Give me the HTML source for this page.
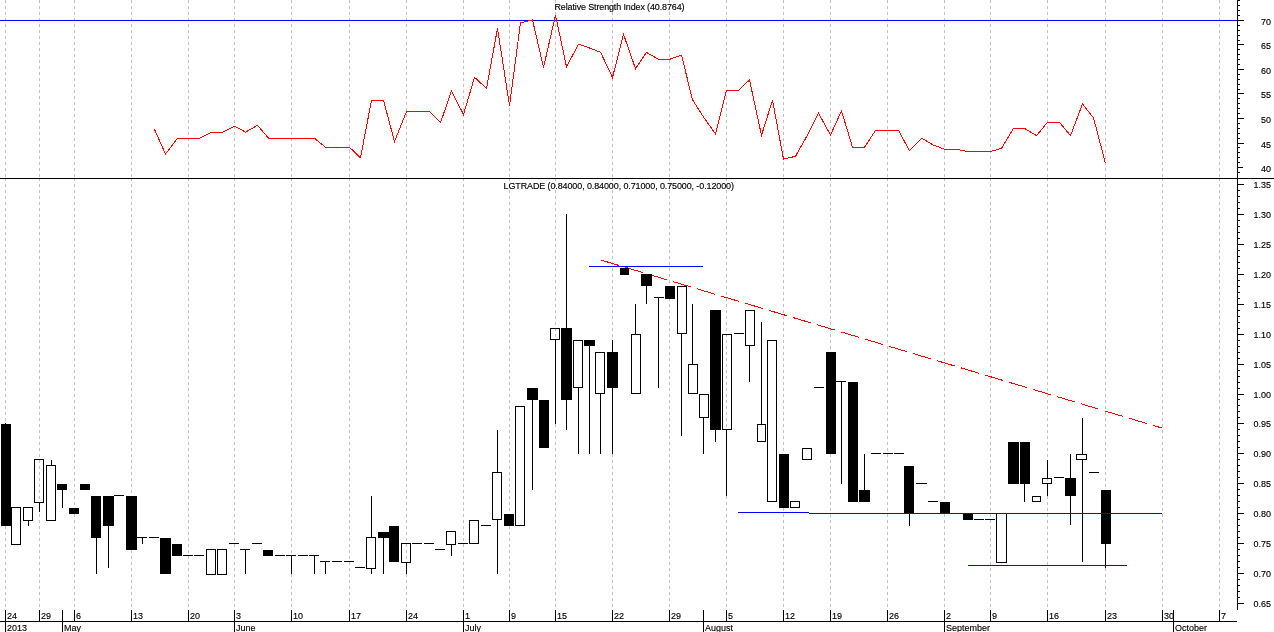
<!DOCTYPE html><html><head><meta charset="utf-8"><title>LGTRADE chart</title><style>
html,body{margin:0;padding:0;background:#fff;}body{width:1274px;height:632px;overflow:hidden;}
svg{display:block;}text{font-family:"Liberation Sans",Arial,sans-serif;font-size:9.8px;fill:#000;stroke:#000;stroke-width:.15px;}
.g{stroke:#c0c0c0;stroke-width:1;stroke-dasharray:3 3;}
.k{stroke:#000;stroke-width:1;}.h{fill:none;stroke:#000;stroke-width:1;}.b{fill:#000;}
</style></head><body>
<svg width="1274" height="632" viewBox="0 0 1274 632" shape-rendering="crispEdges">
<rect width="1274" height="632" fill="#fff"/>
<line class="g" x1="5.5" y1="0" x2="5.5" y2="178"/><line class="g" x1="5.5" y1="178" x2="5.5" y2="610"/>
<line class="g" x1="39.5" y1="0" x2="39.5" y2="178"/><line class="g" x1="39.5" y1="178" x2="39.5" y2="610"/>
<line class="g" x1="74.5" y1="0" x2="74.5" y2="178"/><line class="g" x1="74.5" y1="178" x2="74.5" y2="610"/>
<line class="g" x1="131.5" y1="0" x2="131.5" y2="178"/><line class="g" x1="131.5" y1="178" x2="131.5" y2="610"/>
<line class="g" x1="188.5" y1="0" x2="188.5" y2="178"/><line class="g" x1="188.5" y1="178" x2="188.5" y2="610"/>
<line class="g" x1="234.5" y1="0" x2="234.5" y2="178"/><line class="g" x1="234.5" y1="178" x2="234.5" y2="610"/>
<line class="g" x1="291.5" y1="0" x2="291.5" y2="178"/><line class="g" x1="291.5" y1="178" x2="291.5" y2="610"/>
<line class="g" x1="349.5" y1="0" x2="349.5" y2="178"/><line class="g" x1="349.5" y1="178" x2="349.5" y2="610"/>
<line class="g" x1="406.5" y1="0" x2="406.5" y2="178"/><line class="g" x1="406.5" y1="178" x2="406.5" y2="610"/>
<line class="g" x1="463.5" y1="0" x2="463.5" y2="178"/><line class="g" x1="463.5" y1="178" x2="463.5" y2="610"/>
<line class="g" x1="509.5" y1="0" x2="509.5" y2="178"/><line class="g" x1="509.5" y1="178" x2="509.5" y2="610"/>
<line class="g" x1="555.5" y1="0" x2="555.5" y2="178"/><line class="g" x1="555.5" y1="178" x2="555.5" y2="610"/>
<line class="g" x1="612.5" y1="0" x2="612.5" y2="178"/><line class="g" x1="612.5" y1="178" x2="612.5" y2="610"/>
<line class="g" x1="669.5" y1="0" x2="669.5" y2="178"/><line class="g" x1="669.5" y1="178" x2="669.5" y2="610"/>
<line class="g" x1="726.5" y1="0" x2="726.5" y2="178"/><line class="g" x1="726.5" y1="178" x2="726.5" y2="610"/>
<line class="g" x1="783.5" y1="0" x2="783.5" y2="178"/><line class="g" x1="783.5" y1="178" x2="783.5" y2="610"/>
<line class="g" x1="830.5" y1="0" x2="830.5" y2="178"/><line class="g" x1="830.5" y1="178" x2="830.5" y2="610"/>
<line class="g" x1="887.5" y1="0" x2="887.5" y2="178"/><line class="g" x1="887.5" y1="178" x2="887.5" y2="610"/>
<line class="g" x1="944.5" y1="0" x2="944.5" y2="178"/><line class="g" x1="944.5" y1="178" x2="944.5" y2="610"/>
<line class="g" x1="990.5" y1="0" x2="990.5" y2="178"/><line class="g" x1="990.5" y1="178" x2="990.5" y2="610"/>
<line class="g" x1="1047.5" y1="0" x2="1047.5" y2="178"/><line class="g" x1="1047.5" y1="178" x2="1047.5" y2="610"/>
<line class="g" x1="1105.5" y1="0" x2="1105.5" y2="178"/><line class="g" x1="1105.5" y1="178" x2="1105.5" y2="610"/>
<line class="g" x1="1162.5" y1="0" x2="1162.5" y2="178"/><line class="g" x1="1162.5" y1="178" x2="1162.5" y2="610"/>
<line class="g" x1="1219.5" y1="0" x2="1219.5" y2="178"/><line class="g" x1="1219.5" y1="178" x2="1219.5" y2="610"/>
<line x1="0" y1="20.5" x2="1237" y2="20.5" stroke="#0000ff"/>
<polyline points="154.5,129.3 165.5,154.0 177.5,138.2 188.5,138.2 199.5,138.2 211.5,132.3 222.5,132.3 234.5,126.1 245.5,132.1 257.5,125.3 268.5,138.2 280.5,138.2 291.5,138.2 303.5,138.2 314.5,138.2 325.5,147.3 337.5,147.3 349.5,147.3 360.5,157.8 371.5,100.2 383.5,100.2 394.5,141.6 406.5,111.5 417.5,111.5 429.5,111.5 440.5,122.7 451.5,90.9 463.5,114.5 474.5,77.3 486.5,88.4 497.5,28.5 509.5,105.5 520.5,22.8 532.5,19.9 543.5,67.4 555.5,15.2 566.5,66.8 578.5,44.2 589.5,48.0 600.5,52.2 612.5,77.5 623.5,34.2 635.5,68.7 646.5,52.4 658.5,59.4 669.5,59.4 681.5,55.1 692.5,99.8 703.5,117.0 715.5,134.0 726.5,90.4 738.5,90.4 749.5,79.9 761.5,135.4 772.5,100.2 783.5,159.1 795.5,156.3 807.5,135.0 818.5,113.2 830.5,135.0 841.5,110.9 852.5,147.3 864.5,147.3 875.5,130.4 887.5,130.4 898.5,130.4 909.5,150.8 921.5,138.2 933.5,145.1 944.5,149.2 956.5,149.2 967.5,151.5 978.5,151.5 990.5,151.5 1001.5,148.3 1013.5,128.4 1024.5,128.4 1036.5,135.6 1047.5,122.3 1059.5,122.3 1070.5,135.6 1082.5,104.0 1093.5,117.9 1105.5,163.5" fill="none" stroke="#ff0000" stroke-width="1"/>
<line class="k" x1="0" y1="178.5" x2="1274" y2="178.5"/>
<line x1="601.2" y1="260.1" x2="1162" y2="428.06" stroke="#ff0000" stroke-width="1" stroke-dasharray="18.25 6.8"/>
<line class="k" x1="5.5" y1="423" x2="5.5" y2="424"/>
<rect class="b" x="1" y="424" width="10" height="102"/>
<rect class="h" x="11.5" y="507.5" width="9" height="37"/>
<line class="k" x1="28.5" y1="520" x2="28.5" y2="526"/>
<rect class="h" x="23.5" y="507.5" width="9" height="13"/>
<line class="k" x1="39.5" y1="502" x2="39.5" y2="512"/>
<rect class="h" x="34.5" y="459.5" width="9" height="43"/>
<line class="k" x1="51.5" y1="460" x2="51.5" y2="466"/>
<rect class="h" x="46.5" y="465.5" width="9" height="55"/>
<line class="k" x1="62.5" y1="490" x2="62.5" y2="508"/>
<rect class="b" x="57" y="484" width="10" height="6"/>
<rect class="b" x="69" y="508" width="10" height="6"/>
<rect class="b" x="80" y="484" width="10" height="6"/>
<line class="k" x1="96.5" y1="538" x2="96.5" y2="574"/>
<rect class="b" x="91" y="496" width="10" height="42"/>
<line class="k" x1="108.5" y1="526" x2="108.5" y2="568"/>
<rect class="b" x="103" y="496" width="11" height="30"/>
<line class="k" x1="114" y1="495.5" x2="124" y2="495.5"/>
<rect class="b" x="126" y="496" width="11" height="54"/>
<line class="k" x1="142.5" y1="538" x2="142.5" y2="544"/>
<line class="k" x1="137" y1="537.5" x2="147" y2="537.5"/>
<line class="k" x1="149" y1="537.5" x2="159" y2="537.5"/>
<rect class="b" x="160" y="538" width="11" height="36"/>
<rect class="b" x="172" y="544" width="10" height="12"/>
<line class="k" x1="183" y1="555.5" x2="193" y2="555.5"/>
<line class="k" x1="194" y1="555.5" x2="204" y2="555.5"/>
<rect class="h" x="206.5" y="549.5" width="9" height="25"/>
<rect class="h" x="217.5" y="549.5" width="9" height="25"/>
<line class="k" x1="229" y1="543.5" x2="239" y2="543.5"/>
<line class="k" x1="245.5" y1="550" x2="245.5" y2="574"/>
<line class="k" x1="240" y1="549.5" x2="250" y2="549.5"/>
<line class="k" x1="252" y1="543.5" x2="262" y2="543.5"/>
<rect class="b" x="263" y="550" width="10" height="6"/>
<line class="k" x1="275" y1="555.5" x2="285" y2="555.5"/>
<line class="k" x1="291.5" y1="556" x2="291.5" y2="574"/>
<line class="k" x1="286" y1="555.5" x2="296" y2="555.5"/>
<line class="k" x1="298" y1="555.5" x2="308" y2="555.5"/>
<line class="k" x1="314.5" y1="556" x2="314.5" y2="574"/>
<line class="k" x1="309" y1="555.5" x2="319" y2="555.5"/>
<line class="k" x1="325.5" y1="562" x2="325.5" y2="574"/>
<line class="k" x1="320" y1="561.5" x2="330" y2="561.5"/>
<line class="k" x1="332" y1="561.5" x2="342" y2="561.5"/>
<line class="k" x1="344" y1="561.5" x2="354" y2="561.5"/>
<line class="k" x1="355" y1="567.5" x2="365" y2="567.5"/>
<line class="k" x1="371.5" y1="496" x2="371.5" y2="538"/>
<line class="k" x1="371.5" y1="568" x2="371.5" y2="574"/>
<rect class="h" x="366.5" y="537.5" width="9" height="31"/>
<line class="k" x1="383.5" y1="538" x2="383.5" y2="574"/>
<rect class="b" x="378" y="532" width="11" height="6"/>
<rect class="b" x="389" y="526" width="10" height="36"/>
<line class="k" x1="406.5" y1="562" x2="406.5" y2="574"/>
<rect class="h" x="401.5" y="543.5" width="9" height="19"/>
<line class="k" x1="412" y1="543.5" x2="422" y2="543.5"/>
<line class="k" x1="424" y1="543.5" x2="434" y2="543.5"/>
<line class="k" x1="435" y1="549.5" x2="445" y2="549.5"/>
<line class="k" x1="451.5" y1="544" x2="451.5" y2="556"/>
<rect class="h" x="446.5" y="531.5" width="9" height="13"/>
<line class="k" x1="458" y1="543.5" x2="468" y2="543.5"/>
<rect class="h" x="469.5" y="520.5" width="9" height="23"/>
<line class="k" x1="481" y1="525.5" x2="491" y2="525.5"/>
<line class="k" x1="497.5" y1="430" x2="497.5" y2="472"/>
<line class="k" x1="497.5" y1="520" x2="497.5" y2="574"/>
<rect class="h" x="492.5" y="472.5" width="9" height="47"/>
<rect class="b" x="504" y="514" width="10" height="12"/>
<rect class="h" x="515.5" y="406.5" width="9" height="119"/>
<line class="k" x1="532.5" y1="400" x2="532.5" y2="490"/>
<rect class="b" x="527" y="388" width="11" height="12"/>
<rect class="b" x="539" y="400" width="10" height="48"/>
<line class="k" x1="555.5" y1="340" x2="555.5" y2="424"/>
<rect class="h" x="550.5" y="328.5" width="9" height="11"/>
<line class="k" x1="566.5" y1="214" x2="566.5" y2="328"/>
<line class="k" x1="566.5" y1="400" x2="566.5" y2="430"/>
<rect class="b" x="561" y="328" width="11" height="72"/>
<line class="k" x1="578.5" y1="388" x2="578.5" y2="454"/>
<rect class="h" x="573.5" y="340.5" width="9" height="47"/>
<line class="k" x1="589.5" y1="346" x2="589.5" y2="454"/>
<rect class="b" x="584" y="340" width="11" height="6"/>
<line class="k" x1="600.5" y1="394" x2="600.5" y2="454"/>
<rect class="h" x="595.5" y="352.5" width="9" height="41"/>
<line class="k" x1="612.5" y1="340" x2="612.5" y2="352"/>
<line class="k" x1="612.5" y1="388" x2="612.5" y2="454"/>
<rect class="b" x="607" y="352" width="11" height="36"/>
<rect class="b" x="620" y="268" width="9" height="7"/>
<line class="k" x1="635.5" y1="304" x2="635.5" y2="334"/>
<rect class="h" x="631.5" y="334.5" width="9" height="59"/>
<line class="k" x1="646.5" y1="286" x2="646.5" y2="304"/>
<rect class="b" x="641" y="274" width="11" height="12"/>
<line class="k" x1="658.5" y1="298" x2="658.5" y2="388"/>
<line class="k" x1="654" y1="297.5" x2="664" y2="297.5"/>
<rect class="b" x="665" y="286" width="10" height="13"/>
<line class="k" x1="681.5" y1="334" x2="681.5" y2="436"/>
<rect class="h" x="677.5" y="286.5" width="9" height="47"/>
<line class="k" x1="692.5" y1="304" x2="692.5" y2="364"/>
<rect class="h" x="688.5" y="364.5" width="9" height="29"/>
<line class="k" x1="703.5" y1="418" x2="703.5" y2="454"/>
<rect class="h" x="699.5" y="394.5" width="9" height="23"/>
<line class="k" x1="715.5" y1="430" x2="715.5" y2="442"/>
<rect class="b" x="710" y="310" width="11" height="120"/>
<line class="k" x1="726.5" y1="430" x2="726.5" y2="496"/>
<rect class="h" x="722.5" y="334.5" width="9" height="95"/>
<line class="k" x1="734" y1="333.5" x2="744" y2="333.5"/>
<line class="k" x1="749.5" y1="346" x2="749.5" y2="382"/>
<rect class="h" x="745.5" y="310.5" width="9" height="35"/>
<line class="k" x1="761.5" y1="322" x2="761.5" y2="424"/>
<rect class="h" x="757.5" y="424.5" width="8" height="17"/>
<rect class="h" x="767.5" y="340.5" width="9" height="161"/>
<rect class="b" x="779" y="454" width="10" height="54"/>
<rect class="h" x="790.5" y="501.5" width="9" height="6"/>
<rect class="h" x="802.5" y="448.5" width="9" height="11"/>
<line class="k" x1="814" y1="387.5" x2="824" y2="387.5"/>
<rect class="b" x="826" y="352" width="10" height="102"/>
<line class="k" x1="841.5" y1="382" x2="841.5" y2="484"/>
<line class="k" x1="836" y1="381.5" x2="846" y2="381.5"/>
<rect class="b" x="848" y="382" width="10" height="120"/>
<line class="k" x1="864.5" y1="454" x2="864.5" y2="490"/>
<rect class="b" x="859" y="490" width="11" height="12"/>
<line class="k" x1="871" y1="453.5" x2="881" y2="453.5"/>
<line class="k" x1="883" y1="453.5" x2="893" y2="453.5"/>
<line class="k" x1="894" y1="453.5" x2="904" y2="453.5"/>
<line class="k" x1="909.5" y1="514" x2="909.5" y2="526"/>
<rect class="b" x="904" y="466" width="10" height="48"/>
<line class="k" x1="916" y1="483.5" x2="927" y2="483.5"/>
<line class="k" x1="928" y1="501.5" x2="938" y2="501.5"/>
<rect class="b" x="940" y="502" width="10" height="12"/>
<rect class="b" x="963" y="514" width="10" height="6"/>
<line class="k" x1="974" y1="519.5" x2="984" y2="519.5"/>
<line class="k" x1="985" y1="519.5" x2="995" y2="519.5"/>
<rect class="h" x="996.5" y="513.5" width="10" height="49"/>
<rect class="b" x="1008" y="442" width="11" height="42"/>
<line class="k" x1="1024.5" y1="484" x2="1024.5" y2="502"/>
<rect class="b" x="1020" y="442" width="10" height="42"/>
<rect class="h" x="1032.5" y="496.5" width="8" height="5"/>
<line class="k" x1="1047.5" y1="460" x2="1047.5" y2="478"/>
<line class="k" x1="1047.5" y1="484" x2="1047.5" y2="496"/>
<rect class="h" x="1042.5" y="478.5" width="9" height="5"/>
<line class="k" x1="1054" y1="477.5" x2="1064" y2="477.5"/>
<line class="k" x1="1070.5" y1="454" x2="1070.5" y2="478"/>
<line class="k" x1="1070.5" y1="496" x2="1070.5" y2="525"/>
<rect class="b" x="1065" y="478" width="11" height="18"/>
<line class="k" x1="1082.5" y1="418" x2="1082.5" y2="454"/>
<line class="k" x1="1082.5" y1="460" x2="1082.5" y2="562"/>
<rect class="h" x="1076.5" y="454.5" width="10" height="5"/>
<line class="k" x1="1089" y1="472.5" x2="1099" y2="472.5"/>
<line class="k" x1="1105.5" y1="544" x2="1105.5" y2="568"/>
<rect class="b" x="1101" y="490" width="10" height="54"/>
<line x1="589" y1="266.5" x2="703" y2="266.5" stroke="#0000ff"/>
<line x1="738" y1="512.5" x2="809" y2="512.5" stroke="#0000ff"/>
<line x1="809" y1="513.5" x2="1162" y2="513.5" stroke="#0000ff"/>
<line x1="968" y1="565.5" x2="1127" y2="565.5" stroke="#0000ff"/>
<line class="k" x1="1237.5" y1="0" x2="1237.5" y2="610"/>
<line class="k" x1="1237" y1="172.5" x2="1240" y2="172.5"/>
<line class="k" x1="1237" y1="167.5" x2="1243" y2="167.5"/>
<text transform="translate(1271 171.6) scale(0.918 1)" text-anchor="end">40</text>
<line class="k" x1="1237" y1="162.5" x2="1240" y2="162.5"/>
<line class="k" x1="1237" y1="157.5" x2="1240" y2="157.5"/>
<line class="k" x1="1237" y1="152.5" x2="1240" y2="152.5"/>
<line class="k" x1="1237" y1="147.5" x2="1240" y2="147.5"/>
<line class="k" x1="1237" y1="143.5" x2="1244" y2="143.5"/>
<text transform="translate(1271 147.6) scale(0.918 1)" text-anchor="end">45</text>
<line class="k" x1="1237" y1="138.5" x2="1240" y2="138.5"/>
<line class="k" x1="1237" y1="133.5" x2="1240" y2="133.5"/>
<line class="k" x1="1237" y1="128.5" x2="1240" y2="128.5"/>
<line class="k" x1="1237" y1="123.5" x2="1240" y2="123.5"/>
<line class="k" x1="1237" y1="118.5" x2="1244" y2="118.5"/>
<text transform="translate(1271 122.6) scale(0.918 1)" text-anchor="end">50</text>
<line class="k" x1="1237" y1="113.5" x2="1240" y2="113.5"/>
<line class="k" x1="1237" y1="108.5" x2="1240" y2="108.5"/>
<line class="k" x1="1237" y1="103.5" x2="1240" y2="103.5"/>
<line class="k" x1="1237" y1="98.5" x2="1240" y2="98.5"/>
<line class="k" x1="1237" y1="93.5" x2="1244" y2="93.5"/>
<text transform="translate(1271 97.6) scale(0.918 1)" text-anchor="end">55</text>
<line class="k" x1="1237" y1="89.5" x2="1240" y2="89.5"/>
<line class="k" x1="1237" y1="84.5" x2="1240" y2="84.5"/>
<line class="k" x1="1237" y1="79.5" x2="1240" y2="79.5"/>
<line class="k" x1="1237" y1="74.5" x2="1240" y2="74.5"/>
<line class="k" x1="1237" y1="69.5" x2="1244" y2="69.5"/>
<text transform="translate(1271 73.6) scale(0.918 1)" text-anchor="end">60</text>
<line class="k" x1="1237" y1="64.5" x2="1240" y2="64.5"/>
<line class="k" x1="1237" y1="59.5" x2="1240" y2="59.5"/>
<line class="k" x1="1237" y1="54.5" x2="1240" y2="54.5"/>
<line class="k" x1="1237" y1="49.5" x2="1240" y2="49.5"/>
<line class="k" x1="1237" y1="44.5" x2="1244" y2="44.5"/>
<text transform="translate(1271 48.6) scale(0.918 1)" text-anchor="end">65</text>
<line class="k" x1="1237" y1="40.5" x2="1240" y2="40.5"/>
<line class="k" x1="1237" y1="35.5" x2="1240" y2="35.5"/>
<line class="k" x1="1237" y1="30.5" x2="1240" y2="30.5"/>
<line class="k" x1="1237" y1="25.5" x2="1240" y2="25.5"/>
<line class="k" x1="1237" y1="20.5" x2="1244" y2="20.5"/>
<text transform="translate(1271 24.6) scale(0.918 1)" text-anchor="end">70</text>
<line class="k" x1="1237" y1="15.5" x2="1240" y2="15.5"/>
<line class="k" x1="1237" y1="10.5" x2="1240" y2="10.5"/>
<line class="k" x1="1237" y1="5.5" x2="1240" y2="5.5"/>
<line class="k" x1="1237" y1="0.5" x2="1240" y2="0.5"/>
<line class="k" x1="1237" y1="603.5" x2="1244" y2="603.5"/>
<text transform="translate(1271 607.1) scale(0.918 1)" text-anchor="end">0.65</text>
<line class="k" x1="1237" y1="597.5" x2="1240" y2="597.5"/>
<line class="k" x1="1237" y1="591.5" x2="1240" y2="591.5"/>
<line class="k" x1="1237" y1="585.5" x2="1240" y2="585.5"/>
<line class="k" x1="1237" y1="579.5" x2="1240" y2="579.5"/>
<line class="k" x1="1237" y1="573.5" x2="1244" y2="573.5"/>
<text transform="translate(1271 577.1) scale(0.918 1)" text-anchor="end">0.70</text>
<line class="k" x1="1237" y1="567.5" x2="1240" y2="567.5"/>
<line class="k" x1="1237" y1="561.5" x2="1240" y2="561.5"/>
<line class="k" x1="1237" y1="555.5" x2="1240" y2="555.5"/>
<line class="k" x1="1237" y1="549.5" x2="1240" y2="549.5"/>
<line class="k" x1="1237" y1="543.5" x2="1244" y2="543.5"/>
<text transform="translate(1271 547.1) scale(0.918 1)" text-anchor="end">0.75</text>
<line class="k" x1="1237" y1="537.5" x2="1240" y2="537.5"/>
<line class="k" x1="1237" y1="531.5" x2="1240" y2="531.5"/>
<line class="k" x1="1237" y1="525.5" x2="1240" y2="525.5"/>
<line class="k" x1="1237" y1="519.5" x2="1240" y2="519.5"/>
<line class="k" x1="1237" y1="513.5" x2="1244" y2="513.5"/>
<text transform="translate(1271 517.1) scale(0.918 1)" text-anchor="end">0.80</text>
<line class="k" x1="1237" y1="507.5" x2="1240" y2="507.5"/>
<line class="k" x1="1237" y1="501.5" x2="1240" y2="501.5"/>
<line class="k" x1="1237" y1="495.5" x2="1240" y2="495.5"/>
<line class="k" x1="1237" y1="489.5" x2="1240" y2="489.5"/>
<line class="k" x1="1237" y1="483.5" x2="1244" y2="483.5"/>
<text transform="translate(1271 487.1) scale(0.918 1)" text-anchor="end">0.85</text>
<line class="k" x1="1237" y1="477.5" x2="1240" y2="477.5"/>
<line class="k" x1="1237" y1="471.5" x2="1240" y2="471.5"/>
<line class="k" x1="1237" y1="465.5" x2="1240" y2="465.5"/>
<line class="k" x1="1237" y1="459.5" x2="1240" y2="459.5"/>
<line class="k" x1="1237" y1="453.5" x2="1244" y2="453.5"/>
<text transform="translate(1271 457.1) scale(0.918 1)" text-anchor="end">0.90</text>
<line class="k" x1="1237" y1="447.5" x2="1240" y2="447.5"/>
<line class="k" x1="1237" y1="441.5" x2="1240" y2="441.5"/>
<line class="k" x1="1237" y1="435.5" x2="1240" y2="435.5"/>
<line class="k" x1="1237" y1="429.5" x2="1240" y2="429.5"/>
<line class="k" x1="1237" y1="423.5" x2="1244" y2="423.5"/>
<text transform="translate(1271 427.1) scale(0.918 1)" text-anchor="end">0.95</text>
<line class="k" x1="1237" y1="417.5" x2="1240" y2="417.5"/>
<line class="k" x1="1237" y1="411.5" x2="1240" y2="411.5"/>
<line class="k" x1="1237" y1="405.5" x2="1240" y2="405.5"/>
<line class="k" x1="1237" y1="399.5" x2="1240" y2="399.5"/>
<line class="k" x1="1237" y1="394.5" x2="1244" y2="394.5"/>
<text transform="translate(1271 398.1) scale(0.918 1)" text-anchor="end">1.00</text>
<line class="k" x1="1237" y1="388.5" x2="1240" y2="388.5"/>
<line class="k" x1="1237" y1="382.5" x2="1240" y2="382.5"/>
<line class="k" x1="1237" y1="376.5" x2="1240" y2="376.5"/>
<line class="k" x1="1237" y1="370.5" x2="1240" y2="370.5"/>
<line class="k" x1="1237" y1="364.5" x2="1244" y2="364.5"/>
<text transform="translate(1271 368.1) scale(0.918 1)" text-anchor="end">1.05</text>
<line class="k" x1="1237" y1="358.5" x2="1240" y2="358.5"/>
<line class="k" x1="1237" y1="352.5" x2="1240" y2="352.5"/>
<line class="k" x1="1237" y1="346.5" x2="1240" y2="346.5"/>
<line class="k" x1="1237" y1="340.5" x2="1240" y2="340.5"/>
<line class="k" x1="1237" y1="334.5" x2="1244" y2="334.5"/>
<text transform="translate(1271 338.1) scale(0.918 1)" text-anchor="end">1.10</text>
<line class="k" x1="1237" y1="328.5" x2="1240" y2="328.5"/>
<line class="k" x1="1237" y1="322.5" x2="1240" y2="322.5"/>
<line class="k" x1="1237" y1="316.5" x2="1240" y2="316.5"/>
<line class="k" x1="1237" y1="310.5" x2="1240" y2="310.5"/>
<line class="k" x1="1237" y1="304.5" x2="1244" y2="304.5"/>
<text transform="translate(1271 308.1) scale(0.918 1)" text-anchor="end">1.15</text>
<line class="k" x1="1237" y1="298.5" x2="1240" y2="298.5"/>
<line class="k" x1="1237" y1="292.5" x2="1240" y2="292.5"/>
<line class="k" x1="1237" y1="286.5" x2="1240" y2="286.5"/>
<line class="k" x1="1237" y1="280.5" x2="1240" y2="280.5"/>
<line class="k" x1="1237" y1="274.5" x2="1244" y2="274.5"/>
<text transform="translate(1271 278.1) scale(0.918 1)" text-anchor="end">1.20</text>
<line class="k" x1="1237" y1="268.5" x2="1240" y2="268.5"/>
<line class="k" x1="1237" y1="262.5" x2="1240" y2="262.5"/>
<line class="k" x1="1237" y1="256.5" x2="1240" y2="256.5"/>
<line class="k" x1="1237" y1="250.5" x2="1240" y2="250.5"/>
<line class="k" x1="1237" y1="244.5" x2="1244" y2="244.5"/>
<text transform="translate(1271 248.1) scale(0.918 1)" text-anchor="end">1.25</text>
<line class="k" x1="1237" y1="238.5" x2="1240" y2="238.5"/>
<line class="k" x1="1237" y1="232.5" x2="1240" y2="232.5"/>
<line class="k" x1="1237" y1="226.5" x2="1240" y2="226.5"/>
<line class="k" x1="1237" y1="220.5" x2="1240" y2="220.5"/>
<line class="k" x1="1237" y1="214.5" x2="1244" y2="214.5"/>
<text transform="translate(1271 218.1) scale(0.918 1)" text-anchor="end">1.30</text>
<line class="k" x1="1237" y1="208.5" x2="1240" y2="208.5"/>
<line class="k" x1="1237" y1="202.5" x2="1240" y2="202.5"/>
<line class="k" x1="1237" y1="196.5" x2="1240" y2="196.5"/>
<line class="k" x1="1237" y1="190.5" x2="1240" y2="190.5"/>
<line class="k" x1="1237" y1="184.5" x2="1244" y2="184.5"/>
<text transform="translate(1271 188.1) scale(0.918 1)" text-anchor="end">1.35</text>
<line class="k" x1="0" y1="621.5" x2="1237" y2="621.5"/>
<line class="k" x1="5.5" y1="610" x2="5.5" y2="621"/>
<text transform="translate(7 619) scale(0.918 1)">24</text>
<line class="k" x1="39.5" y1="610" x2="39.5" y2="621"/>
<text transform="translate(41 619) scale(0.918 1)">29</text>
<line class="k" x1="74.5" y1="610" x2="74.5" y2="621"/>
<text transform="translate(76 619) scale(0.918 1)">6</text>
<line class="k" x1="131.5" y1="610" x2="131.5" y2="621"/>
<text transform="translate(133 619) scale(0.918 1)">13</text>
<line class="k" x1="188.5" y1="610" x2="188.5" y2="621"/>
<text transform="translate(190 619) scale(0.918 1)">20</text>
<line class="k" x1="234.5" y1="610" x2="234.5" y2="621"/>
<text transform="translate(236 619) scale(0.918 1)">3</text>
<line class="k" x1="291.5" y1="610" x2="291.5" y2="621"/>
<text transform="translate(293 619) scale(0.918 1)">10</text>
<line class="k" x1="349.5" y1="610" x2="349.5" y2="621"/>
<text transform="translate(351 619) scale(0.918 1)">17</text>
<line class="k" x1="406.5" y1="610" x2="406.5" y2="621"/>
<text transform="translate(408 619) scale(0.918 1)">24</text>
<line class="k" x1="463.5" y1="610" x2="463.5" y2="621"/>
<text transform="translate(465 619) scale(0.918 1)">1</text>
<line class="k" x1="509.5" y1="610" x2="509.5" y2="621"/>
<text transform="translate(511 619) scale(0.918 1)">9</text>
<line class="k" x1="555.5" y1="610" x2="555.5" y2="621"/>
<text transform="translate(557 619) scale(0.918 1)">15</text>
<line class="k" x1="612.5" y1="610" x2="612.5" y2="621"/>
<text transform="translate(614 619) scale(0.918 1)">22</text>
<line class="k" x1="669.5" y1="610" x2="669.5" y2="621"/>
<text transform="translate(671 619) scale(0.918 1)">29</text>
<line class="k" x1="726.5" y1="610" x2="726.5" y2="621"/>
<text transform="translate(728 619) scale(0.918 1)">5</text>
<line class="k" x1="783.5" y1="610" x2="783.5" y2="621"/>
<text transform="translate(785 619) scale(0.918 1)">12</text>
<line class="k" x1="830.5" y1="610" x2="830.5" y2="621"/>
<text transform="translate(832 619) scale(0.918 1)">19</text>
<line class="k" x1="887.5" y1="610" x2="887.5" y2="621"/>
<text transform="translate(889 619) scale(0.918 1)">26</text>
<line class="k" x1="944.5" y1="610" x2="944.5" y2="621"/>
<text transform="translate(946 619) scale(0.918 1)">2</text>
<line class="k" x1="990.5" y1="610" x2="990.5" y2="621"/>
<text transform="translate(992 619) scale(0.918 1)">9</text>
<line class="k" x1="1047.5" y1="610" x2="1047.5" y2="621"/>
<text transform="translate(1049 619) scale(0.918 1)">16</text>
<line class="k" x1="1105.5" y1="610" x2="1105.5" y2="621"/>
<text transform="translate(1107 619) scale(0.918 1)">23</text>
<line class="k" x1="1162.5" y1="610" x2="1162.5" y2="621"/>
<text transform="translate(1164 619) scale(0.918 1)">30</text>
<line class="k" x1="1219.5" y1="610" x2="1219.5" y2="621"/>
<text transform="translate(1221 619) scale(0.918 1)">7</text>
<line class="k" x1="5.5" y1="610" x2="5.5" y2="632"/>
<text transform="translate(7 631) scale(0.918 1)">2013</text>
<line class="k" x1="62.5" y1="610" x2="62.5" y2="632"/>
<text transform="translate(64 631) scale(0.918 1)">May</text>
<line class="k" x1="234.5" y1="610" x2="234.5" y2="632"/>
<text transform="translate(236 631) scale(0.918 1)">June</text>
<line class="k" x1="463.5" y1="610" x2="463.5" y2="632"/>
<text transform="translate(465 631) scale(0.918 1)">July</text>
<line class="k" x1="703.5" y1="610" x2="703.5" y2="632"/>
<text transform="translate(705 631) scale(0.918 1)">August</text>
<line class="k" x1="944.5" y1="610" x2="944.5" y2="632"/>
<text transform="translate(946 631) scale(0.918 1)">September</text>
<line class="k" x1="1173.5" y1="610" x2="1173.5" y2="632"/>
<text transform="translate(1175 631) scale(0.918 1)">October</text>
<text transform="translate(554.5 10) scale(0.918 1)" textLength="141.612" lengthAdjust="spacing">Relative Strength Index (40.8764)</text>
<text transform="translate(503.5 188.6) scale(0.918 1)" textLength="251.089" lengthAdjust="spacing">LGTRADE (0.84000, 0.84000, 0.71000, 0.75000, -0.12000)</text>
</svg></body></html>
